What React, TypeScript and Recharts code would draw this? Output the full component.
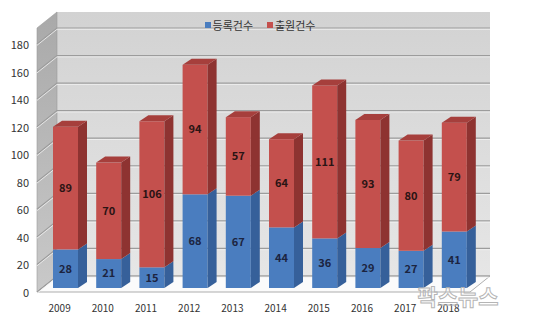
import React from 'react';
import { BarChart, Bar, XAxis, YAxis, CartesianGrid, Legend, LabelList } from 'recharts';

const years = ['2009', '2010', '2011', '2012', '2013', '2014', '2015', '2016', '2017', '2018'];
const registered = [28, 21, 15, 68, 67, 44, 36, 29, 27, 41];
const applied = [89, 70, 106, 94, 57, 64, 111, 93, 80, 79];
const yTicks = [0, 20, 40, 60, 80, 100, 120, 140, 160, 180];

const data = years.map((year, i) => ({ year, reg: registered[i], app: applied[i] }));

const W = 534;
const H = 328;
const PLOT_TOP = 24;
const PLOT_BOTTOM = 288;
const PLOT_LEFT = 44;
const PLOT_RIGHT = 476;
const FONT = '"Noto Sans CJK KR", "Noto Sans", sans-serif';

// 3d walls around the plot
const WALL_FRONT_X = 37;
const WALL_BACK_X = 57;
const BACK_RIGHT_X = 490;
const FRONT_DY = 4;
const BACK_DY = -12;
const FLOOR_FRONT_RIGHT = 470;

const BAR_DX = 9;
const BAR_DY = 6;

const colors = {
  reg: { front: '#4a7dbf', side: '#36609a', top: '#5b8bc9' },
  app: { front: '#c4504d', side: '#8e3331', top: '#a63f3c' },
};

function make3dBar(key: 'reg' | 'app', withTop: boolean) {
  return (props: any) => {
    const { x, y, width, height } = props;
    if (!height || height <= 0) return <g />;
    const c = colors[key];
    const r = x + width;
    return (
      <g>
        <rect x={x} y={y} width={width} height={height} fill={c.front} />
        <polygon
          points={`${r},${y} ${r + BAR_DX},${y - BAR_DY} ${r + BAR_DX},${y + height - BAR_DY} ${r},${y + height}`}
          fill={c.side}
        />
        {withTop && (
          <polygon
            points={`${x},${y} ${x + BAR_DX},${y - BAR_DY} ${r + BAR_DX},${y - BAR_DY} ${r},${y}`}
            fill={c.top}
          />
        )}
      </g>
    );
  };
}

const gridLine = (p: any) => {
  const y = p.y1;
  return (
    <g key={p.key}>
      <polyline
        points={`${WALL_FRONT_X},${y + FRONT_DY} ${WALL_BACK_X},${y + BACK_DY} ${BACK_RIGHT_X},${y + BACK_DY}`}
        fill="none"
        stroke="#9c9c9c"
        strokeWidth={1.2}
      />
      <polyline
        points={`${WALL_FRONT_X},${y + FRONT_DY + 1.3} ${WALL_BACK_X},${y + BACK_DY + 1.3} ${BACK_RIGHT_X},${y + BACK_DY + 1.3}`}
        fill="none"
        stroke="#f2f2f2"
        strokeWidth={0.8}
      />
    </g>
  );
};

const YTick = (props: any) => (
  <text x={29} y={props.y + FRONT_DY} textAnchor="end" dominantBaseline="central" fontSize={11} fill="#333" fontFamily={FONT}>
    {props.payload.value}
  </text>
);

const XTick = (props: any) => (
  <text x={props.x - 6} y={PLOT_BOTTOM + 19} textAnchor="middle" dominantBaseline="central" fontSize={10} fill="#333" fontFamily={FONT}>
    {props.payload.value}
  </text>
);

const legendItems = [
  { label: '등록건수', color: colors.reg.front },
  { label: '출원건수', color: colors.app.front },
];

const LegendContent = () => (
  <div style={{ display: 'flex', justifyContent: 'center', gap: 14, fontFamily: FONT, fontSize: 11, color: '#333' }}>
    {legendItems.map(it => (
      <span key={it.label} style={{ display: 'flex', alignItems: 'center', gap: 2 }}>
        <span style={{ display: 'inline-block', width: 6, height: 6, background: it.color }} />
        {it.label}
      </span>
    ))}
  </div>
);

const Walls = () => {
  const top = PLOT_TOP;
  const bottom = PLOT_BOTTOM;
  return (
    <svg width={W} height={H} style={{ position: 'absolute', left: 0, top: 0 }}>
      <defs>
        <linearGradient id="backWall" x1="0" y1="0" x2="0" y2="1">
          <stop offset="0%" stopColor="#d2d2d2" />
          <stop offset="100%" stopColor="#e6e6e6" />
        </linearGradient>
        <linearGradient id="sideWall" x1="0" y1="0" x2="0" y2="1">
          <stop offset="0%" stopColor="#a9a9a9" />
          <stop offset="100%" stopColor="#c9c9c9" />
        </linearGradient>
      </defs>
      <rect x={WALL_BACK_X} y={top + BACK_DY} width={BACK_RIGHT_X - WALL_BACK_X} height={bottom - top} fill="url(#backWall)" />
      <polygon
        points={`${WALL_FRONT_X},${top + FRONT_DY} ${WALL_BACK_X},${top + BACK_DY} ${WALL_BACK_X},${bottom + BACK_DY} ${WALL_FRONT_X},${bottom + FRONT_DY}`}
        fill="url(#sideWall)"
        stroke="#9a9a9a"
        strokeWidth={0.6}
      />
      <polygon
        points={`${WALL_FRONT_X},${bottom + FRONT_DY} ${WALL_BACK_X},${bottom + BACK_DY} ${BACK_RIGHT_X},${bottom + BACK_DY} ${FLOOR_FRONT_RIGHT},${bottom + FRONT_DY}`}
        fill="#fbfbfb"
        stroke="#9a9a9a"
        strokeWidth={0.8}
      />
    </svg>
  );
};

export default function App() {
  return (
    <div style={{ position: 'absolute', left: 0, top: 0, width: W, height: H, background: '#fff' }}>
      <Walls />
      <div style={{ position: 'absolute', left: 0, top: 0 }}>
        <BarChart
          width={W}
          height={H}
          data={data}
          margin={{ top: PLOT_TOP, right: W - PLOT_RIGHT, bottom: 0, left: 0 }}
          barSize={25}
        >
          <CartesianGrid vertical={false} horizontal={gridLine} />
          <XAxis dataKey="year" axisLine={false} tickLine={false} height={H - PLOT_BOTTOM} tick={XTick} interval={0} />
          <YAxis
            width={PLOT_LEFT}
            domain={[0, 180]}
            ticks={yTicks}
            axisLine={false}
            tickLine={false}
            tick={YTick}
            interval={0}
          />
          <Legend
            verticalAlign="top"
            content={LegendContent}
            wrapperStyle={{ top: 17, left: 0, width: 520 }}
          />
          <Bar dataKey="reg" name="등록건수" stackId="a" fill={colors.reg.front} shape={make3dBar('reg', false)} isAnimationActive={false}>
            <LabelList dataKey="reg" position="center" fill="#1c2440" fontSize={11} fontWeight="bold" fontFamily={FONT} />
          </Bar>
          <Bar dataKey="app" name="출원건수" stackId="a" fill={colors.app.front} shape={make3dBar('app', true)} isAnimationActive={false}>
            <LabelList dataKey="app" position="center" fill="#2a1414" fontSize={11} fontWeight="bold" fontFamily={FONT} />
          </Bar>
        </BarChart>
      </div>
      <svg width={W} height={H} style={{ position: 'absolute', left: 0, top: 0, pointerEvents: 'none' }}>
        <text x={458} y={305} textAnchor="middle" fontSize={22} fontWeight="bold" fill="none" stroke="#b5b5b5" strokeWidth={1} fontFamily={FONT}>
          팍스뉴스
        </text>
      </svg>
    </div>
  );
}
